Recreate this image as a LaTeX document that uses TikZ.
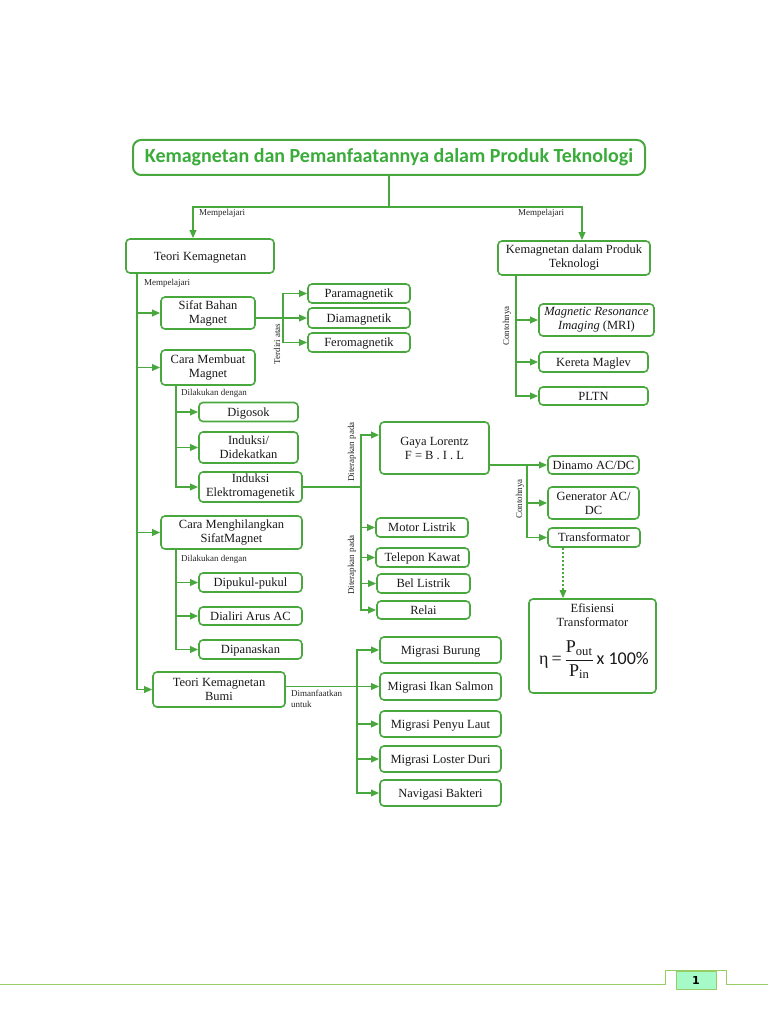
\documentclass[tikz,border=0pt]{standalone}
\usepackage{amsmath}
\usepackage{fontspec}
\setmainfont{Liberation Serif}
\newfontfamily\titlefont{Carlito}
\newfontfamily\pgfont{DejaVu Sans}
\usetikzlibrary{arrows.meta,calc}
\definecolor{gbox}{RGB}{72,168,62}
\definecolor{gtitle}{RGB}{58,172,58}
\definecolor{gfoot}{RGB}{150,205,100}
\definecolor{mint}{RGB}{165,250,200}
\newcommand\bxf{\fontsize{12.5}{14}\selectfont}
\newcommand\lbf{\fontsize{9}{10.5}\selectfont}
\begin{document}
\begin{tikzpicture}[x=1pt,y=-1pt,
 box/.style={draw=gbox, line width=1.6pt, rounded corners=4pt, align=center, inner sep=0pt, font=\bxf, text=black!90},
 onel/.style={box, text height=9pt, text depth=1pt},
 sz/.style 2 args={minimum width=#1, minimum height=#2},
 ln/.style={draw=gbox, line width=1.8pt},
 arr/.style={ln, -{Triangle[length=8pt,width=6.5pt]}},
 lbl/.style={font=\lbf, text=black!85, inner sep=0pt},
]
\useasboundingbox (0,0) rectangle (768,1024);
\fill[white] (0,0) rectangle (768,1024);

% title
\node[draw=gbox, line width=2pt, rounded corners=8pt, sz={512}{35}, inner sep=0pt,
  font=\titlefont\bfseries\fontsize{20}{23}\selectfont, text=gtitle] (title) at (389,157.5)
  {Kemagnetan dan Pemanfaatannya dalam Produk Teknologi};

% level 1
\node[onel, sz={148}{34}] (teori) at (200,256) {Teori Kemagnetan};
\node[box, sz={152}{34}] (kdpt) at (574,258) {Kemagnetan dalam Produk\\Teknologi};

% left branch
\node[box, sz={94}{32}] (sifat) at (208,313) {Sifat Bahan\\Magnet};
\node[onel, sz={102}{19}] (para) at (359,293.5) {Paramagnetik};
\node[onel, sz={102}{20}] (dia) at (359,318) {Diamagnetik};
\node[onel, sz={102}{19}] (fero) at (359,342.5) {Feromagnetik};

\node[box, sz={94}{35}] (cara) at (208,367.5) {Cara Membuat\\Magnet};
\node[onel, sz={99}{19}] (digosok) at (248.5,412) {Digosok};
\node[box, sz={99}{31}] (induksi) at (248.5,447.5) {Induksi/\\Didekatkan};
\node[box, sz={103}{30}] (indel) at (250.5,487) {Induksi\\Elektromagenetik};

\node[box, sz={109}{52}] (gaya) at (434.5,448) {Gaya Lorentz\\F = B . I . L};
\node[onel, sz={92}{19}] (motor) at (422,527.5) {Motor Listrik};
\node[onel, sz={93}{19}] (telepon) at (422.5,557.5) {Telepon Kawat};
\node[onel, sz={93}{19}] (bel) at (423.5,583.5) {Bel Listrik};
\node[onel, sz={93}{18}] (relai) at (423.5,610) {Relai};

\node[onel, sz={91}{18}] (dinamo) at (593.5,465) {Dinamo AC/DC};
\node[box, sz={91}{32}] (generator) at (593.5,503) {Generator AC/\\DC};
\node[onel, sz={92}{19}] (transf) at (594,537.5) {Transformator};
\node[box, sz={127}{94}] (ef) at (592.5,646) {};
\node[font=\bxf, align=center, inner sep=0pt, text=black!90] (eft) at (592.5,615) {Efisiensi\\Transformator};
\node[inner sep=0pt, text=black!90] (fm) at (594,660)
  {\fontsize{18}{21}\selectfont η\,=\,$\dfrac{\text{P}_{\text{out}}}{\text{P}_{\text{in}}}$\,{\titlefont x 100\%}};

\node[box, sz={141}{33}] (cm) at (231.5,532.5) {Cara Menghilangkan\\SifatMagnet};
\node[onel, sz={103}{19}] (dipukul) at (250.5,582.5) {Dipukul-pukul};
\node[onel, sz={103}{18}] (dialiri) at (250.5,616) {Dialiri Arus AC};
\node[onel, sz={103}{19}] (dipanas) at (250.5,649.5) {Dipanaskan};

\node[box, sz={132}{35}] (bumi) at (219,689.5) {Teori Kemagnetan\\Bumi};
\node[onel, sz={121}{26}] (burung) at (440.5,650) {Migrasi Burung};
\node[onel, sz={121}{27}] (salmon) at (440.5,686.5) {Migrasi Ikan Salmon};
\node[onel, sz={121}{26}] (penyu) at (440.5,724) {Migrasi Penyu Laut};
\node[onel, sz={121}{26}] (loster) at (440.5,759) {Migrasi Loster Duri};
\node[onel, sz={121}{26}] (bakteri) at (440.5,793) {Navigasi Bakteri};

% right branch
\node[box, sz={115}{32}] (mri) at (596.5,320) {\itshape Magnetic Resonance\\{\itshape Imaging} (MRI)};
\node[onel, sz={109}{20}] (maglev) at (593.5,362) {Kereta Maglev};
\node[onel, sz={109}{18}] (pltn) at (593.5,396) {PLTN};

% junction coordinates
\coordinate (tj) at (389,207);
\coordinate (tk) at (137,0);
\coordinate (sj) at (283,0);
\coordinate (cj) at (176,0);
\coordinate (ej) at (361,0);
\coordinate (gj) at (527,0);
\coordinate (dx) at (563,0);
\coordinate (bj) at (357,0);
\coordinate (rk) at (516,0);

% connectors
\draw[ln] (title.south) -- (tj);
\draw[arr] (tj) -| ([xshift=-7pt]teori.north);
\draw[arr] (tj) -| ([xshift=8pt]kdpt.north);

\draw[arr] (teori.south -| tk) |- (sifat.west);
\draw[arr] (teori.south -| tk) |- (cara.west);
\draw[arr] (teori.south -| tk) |- (cm.west);
\draw[arr] (teori.south -| tk) |- (bumi.west);

\draw[arr] (sifat.east |- dia.west) -- (dia.west);
\draw[arr] (sj |- dia.west) |- (para.west);
\draw[arr] (sj |- dia.west) |- (fero.west);

\draw[arr] (cara.south -| cj) |- (digosok.west);
\draw[arr] (cara.south -| cj) |- (induksi.west);
\draw[arr] (cara.south -| cj) |- (indel.west);

\draw[ln] (indel.east) -- (indel.east -| ej);
\draw[arr] (ej |- indel.east) |- ([yshift=13pt]gaya.west);
\draw[arr] (ej |- indel.east) |- (motor.west);
\draw[arr] (ej |- indel.east) |- (telepon.west);
\draw[arr] (ej |- indel.east) |- (bel.west);
\draw[arr] (ej |- indel.east) |- (relai.west);

\draw[arr] (gaya.east |- dinamo.west) -- (dinamo.west);
\draw[arr] (gj |- dinamo.west) -- (gj |- generator.west) -- (gj |- transf.west) -- (transf.west);
\draw[arr, line width=2.6pt] (gj |- generator.west) -- (generator.west);
\draw[arr, line width=1.4pt, dash pattern=on 2pt off 2pt] (transf.south -| dx) -- (ef.north -| dx);

\draw[arr] (cm.south -| cj) |- (dipukul.west);
\draw[arr] (cm.south -| cj) |- (dialiri.west);
\draw[arr] (cm.south -| cj) |- (dipanas.west);

\draw[arr] (bumi.east |- salmon.west) -- (salmon.west);
\draw[arr] (bj |- salmon.west) |- (burung.west);
\draw[arr] (bj |- salmon.west) |- (loster.west);
\draw[arr] (bj |- salmon.west) |- (bakteri.west);
\draw[arr, line width=2.6pt] (bj |- penyu.west) -- (penyu.west);

\draw[arr] (kdpt.south -| rk) |- (mri.west);
\draw[arr] (kdpt.south -| rk) |- (maglev.west);
\draw[arr] (kdpt.south -| rk) |- (pltn.west);

% labels
\node[lbl, anchor=west] (l1) at (199,213) {Mempelajari};
\node[lbl, anchor=west] (l2) at (518,213) {Mempelajari};
\node[lbl, anchor=west] (l3) at (144,283) {Mempelajari};
\node[lbl, rotate=90] (l4) at (277,344) {Terdiri atas};
\node[lbl, anchor=west] (l5) at (181,393) {Dilakukan dengan};
\node[lbl, rotate=90] (l6) at (352,452) {Diterapkan pada};
\node[lbl, rotate=90] (l7) at (352,565) {Diterapkan pada};
\node[lbl, rotate=90] (l8) at (507,326) {Contohnya};
\node[lbl, rotate=90] (l9) at (520,499) {Contohnya};
\node[lbl, anchor=west] (l10) at (181,559) {Dilakukan dengan};
\node[lbl, anchor=north west, align=left] (l11) at (291,690) {Dimanfaatkan\\untuk};

% footer
\draw[gfoot, line width=1pt] (0,984) -- (665,984) -- (665,970) -- (726,970) -- (726,984) -- (768,984);
\node[draw=gfoot, line width=1pt, fill=mint, sz={40}{18}, inner sep=0pt,
  font=\pgfont\bfseries\fontsize{11}{13}\selectfont] (pg) at (696,980) {1};
\end{tikzpicture}
\end{document}
